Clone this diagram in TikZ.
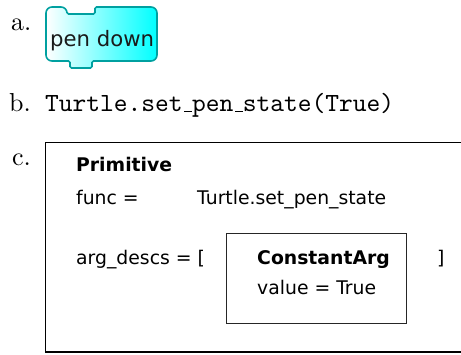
\documentclass[tikz,border=0pt]{standalone}
\usepackage{fontspec}
\usepackage{tikz}
\usetikzlibrary{positioning}
\newfontfamily\boxfont{DejaVu Sans}
\newfontfamily\tagfont{lmroman10-regular.otf}
\newfontfamily\codefont{lmmono10-regular.otf}
\definecolor{BlockEdge}{HTML}{00A0A0}
\definecolor{BlockFill}{HTML}{00FFFF}
\definecolor{Ink}{HTML}{1A1A1A}
% short low rule, as the old typewriter underscore
\newcommand\ttbar{\kern.06em\vbox{\hrule width.3em}}

\begin{document}
\begin{tikzpicture}[x=1pt,y=-1pt,
  tag/.style={font=\tagfont\fontsize{26}{30}\selectfont,anchor=base west,inner sep=0pt},
  code/.style={font=\codefont\fontsize{26.2}{30}\selectfont,anchor=base west,inner sep=0pt},
  field/.style={font=\boxfont\fontsize{18.8}{22}\selectfont,anchor=base west,inner sep=0pt},
  head/.style={font=\boxfont\bfseries\fontsize{18.8}{22}\selectfont,anchor=base west,inner sep=0pt},
  blockline/.style={draw=BlockEdge,line width=1.6pt,left color=white,right color=BlockFill},
  frame/.style={draw=black,line width=1.5pt,inner sep=0pt,outer sep=0pt,anchor=north west},
  argframe/.style={draw=black!85,line width=1pt,inner sep=0pt,outer sep=0pt,anchor=north west}
]
\clip (0,0) rectangle (461,354);
\useasboundingbox (0,0) rectangle (461,354);

% a. the block
\node[tag] (la) at (11,30) {a.};
\draw[blockline]
  (46,34) [rounded corners=6pt] -- (46,7) -- (67,7)
  [rounded corners=1.5pt] -- (67,14) -- (95,14) -- (95,7)
  [rounded corners=6pt] -- (157,7) -- (157,61)
  [rounded corners=1.5pt] -- (92,61) -- (92,68) -- (70,68) -- (70,61)
  [rounded corners=6pt] -- (46,61) -- cycle;
\node[anchor=base west,inner sep=0pt,text=Ink,font=\boxfont\fontsize{21.2}{24}\selectfont] (pendown) at (50,46) {pen down};

% b. the call
\node[tag] (lb) at (9,111) {b.};
\node[code] (call) at (45,111) {Turtle.set\ttbar pen\ttbar state(True)};

% c. the primitive
\node[tag] (lc) at (12,165) {c.};
\node[frame,minimum width=440pt,minimum height=209.5pt] (prim) at (45.5,142.7) {};
\node[head] (primname) at (76,171) {Primitive};
\node[field] (funckey) at (76,204) {func =};
\node[field] (funcval) at (197,204) {Turtle.set\_pen\_state};
\node[field] (argkey) at (76,264) {arg\_descs = [};
\node[argframe,minimum width=180.5pt,minimum height=90pt] (arg) at (226,233) {};
\node[head] (argname) at (257,264) {ConstantArg};
\node[field] (argval) at (257,294) {value = True};
\node[field] (argend) at (437,264) {]};
\end{tikzpicture}
\end{document}
